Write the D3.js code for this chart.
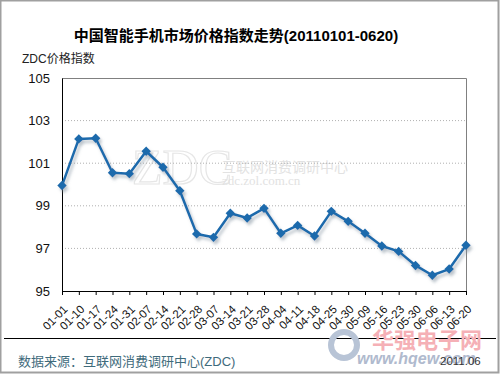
<!DOCTYPE html>
<html>
<head>
<meta charset="utf-8">
<script src="https://cdn.jsdelivr.net/npm/d3@7"></script>
<style>
  body { margin: 0; background: #fff; }
  svg { display: block; font-family: Arial, "Liberation Sans", "Noto Sans CJK SC", sans-serif; }
</style>
</head>
<body>
<div id="chart"></div>
<script>
// dates (week labels) and index values
const dates = ["01-01", "01-10", "01-17", "01-24", "01-31", "02-07", "02-14", "02-21", "02-28",
    "03-07", "03-14", "03-21", "03-28", "04-04", "04-11", "04-18", "04-25", "04-30",
    "05-09", "05-16", "05-23", "05-30", "06-06", "06-13", "06-20"];
const priceIndex = [99.95, 102.14, 102.17, 100.55, 100.51, 101.56, 100.81, 99.71, 97.68,
    97.52, 98.65, 98.43, 98.88, 97.71, 98.08, 97.58, 98.74, 98.27,
    97.71, 97.11, 96.86, 96.2, 95.74, 96.03, 97.15];
const yTicks = [95, 97, 99, 101, 103, 105];

const W = 500, H = 375;
const margin = { top: 78, right: 34, bottom: 84, left: 62 },
    width = W - margin.left - margin.right,
    height = H - margin.top - margin.bottom;

const svg = d3.select("#chart").append("svg")
    .attr("width", W)
    .attr("height", H);

// drop shadow for the line
const defs = svg.append("defs");
const filter = defs.append("filter").attr("id", "shadow")
    .attr("x", "-10%").attr("y", "-10%").attr("width", "130%").attr("height", "130%");
filter.append("feDropShadow")
    .attr("dx", 2).attr("dy", 3).attr("stdDeviation", 1.8)
    .attr("flood-color", "#7a8a99").attr("flood-opacity", 0.5);

// outer frame
svg.append("rect")
    .attr("x", 0.5).attr("y", 0.5)
    .attr("width", W - 2).attr("height", H - 3)
    .attr("fill", "none").attr("stroke", "#a0a0a0").attr("stroke-width", 2);

svg.append("text")
    .attr("x", 236).attr("y", 41)
    .attr("text-anchor", "middle")
    .style("font-size", "15px").style("font-weight", "bold")
    .text("中国智能手机市场价格指数走势(20110101-0620)");

svg.append("text")
    .attr("x", 22).attr("y", 63)
    .style("font-size", "12px").style("fill", "#222")
    .text("ZDC价格指数");

// watermark
const wm = svg.append("g").style("fill", "#e4e4e4");
wm.append("text")
    .attr("x", 132).attr("y", 184)
    .style("font-family", "'Liberation Serif', serif")
    .style("font-size", "50px")
    .style("fill", "none").style("stroke", "#e6e6e6").style("stroke-width", 1.2)
    .text("ZDC");
wm.append("text")
    .attr("x", 222).attr("y", 172)
    .style("font-size", "14px").style("fill", "#e2e2e2")
    .text("互联网消费调研中心");
wm.append("text")
    .attr("x", 222).attr("y", 185)
    .style("font-family", "'Liberation Serif', serif")
    .style("font-size", "13px").style("fill", "#e2e2e2")
    .text("zdc.zol.com.cn");

const g = svg.append("g")
    .attr("transform", `translate(${margin.left},${margin.top})`);

const x = d3.scalePoint()
    .domain(dates)
    .range([0, width])
    .padding(0);

const y = d3.scaleLinear()
    .domain([95, 105])
    .range([height, 0]);

// gridlines
g.append("g")
    .selectAll("line")
    .data(yTicks.filter(d => d > 95 && d < 105))
    .join("line")
    .attr("x1", 0).attr("x2", width)
    .attr("y1", d => y(d)).attr("y2", d => y(d))
    .attr("stroke", "#b0b0b0")
    .attr("stroke-dasharray", "1,2");

// top and right border of the plot
g.append("path")
    .attr("d", `M0,0.5H${width + 0.5}V${height}`)
    .attr("fill", "none").attr("stroke", "#808080");

// y axis
const yAxis = g.append("g")
    .call(d3.axisLeft(y).tickValues(yTicks).tickSize(0).tickPadding(12));
yAxis.select(".domain").attr("stroke", "#000");
yAxis.selectAll("text").style("font-size", "13px").style("fill", "#111")
    .style("font-family", "Arial, 'Liberation Sans', sans-serif");

// x axis
const xAxis = g.append("g")
    .attr("transform", `translate(0,${height})`)
    .call(d3.axisBottom(x).tickSize(4).tickSizeOuter(0));
xAxis.select(".domain").attr("stroke", "#000");
xAxis.selectAll(".tick line").attr("stroke", "#000");
xAxis.selectAll("text")
    .attr("x", 0).attr("y", 0)
    .attr("dx", 0)
    .attr("dy", "0.35em")
    .attr("text-anchor", "end")
    .attr("transform", "translate(3,16) rotate(-45)")
    .style("font-size", "11.5px")
    .style("fill", "#111")
    .style("font-family", "Arial, 'Liberation Sans', sans-serif");

// the series
const line = d3.line()
    .x((d, i) => x(dates[i]))
    .y(d => y(d));

const series = g.append("g").attr("filter", "url(#shadow)");
series.append("path")
    .datum(priceIndex)
    .attr("fill", "none")
    .attr("stroke", "#1c6aac")
    .attr("stroke-width", 2.5)
    .attr("stroke-linejoin", "round")
    .attr("d", line);

series.selectAll("path.marker")
    .data(priceIndex)
    .join("path")
    .attr("class", "marker")
    .attr("d", d3.symbol(d3.symbolSquare, 44))
    .attr("transform", (d, i) => `translate(${x(dates[i])},${y(d)}) rotate(45)`)
    .attr("fill", "#1c6aac");

// footer
svg.append("line")
    .attr("x1", 4).attr("x2", 496)
    .attr("y1", 338.5).attr("y2", 338.5)
    .attr("stroke", "#000");

// 华强电子网 watermark
const hq = svg.append("g");
hq.append("circle")
    .attr("cx", 344).attr("cy", 345).attr("r", 13)
    .attr("fill", "none").attr("stroke", "#b8c4d6").attr("stroke-width", 6);
hq.append("text")
    .attr("x", 372).attr("y", 348)
    .style("font-size", "22px").style("font-weight", "bold")
    .style("fill", "#f5b0b6")
    .text("华强电子网");
hq.append("text")
    .attr("x", 357).attr("y", 364)
    .style("font-size", "16px").style("font-weight", "bold").style("font-style", "italic")
    .style("fill", "#b0bace")
    .text("www.hqew.com");

svg.append("text")
    .attr("x", 18).attr("y", 366)
    .style("font-size", "13px").style("fill", "#3f6b7c")
    .text("数据来源：互联网消费调研中心(ZDC)");

svg.append("text")
    .attr("x", 440).attr("y", 365)
    .style("font-size", "11.5px").style("fill", "#333")
    .text("2011.06");
</script>
</body>
</html>
